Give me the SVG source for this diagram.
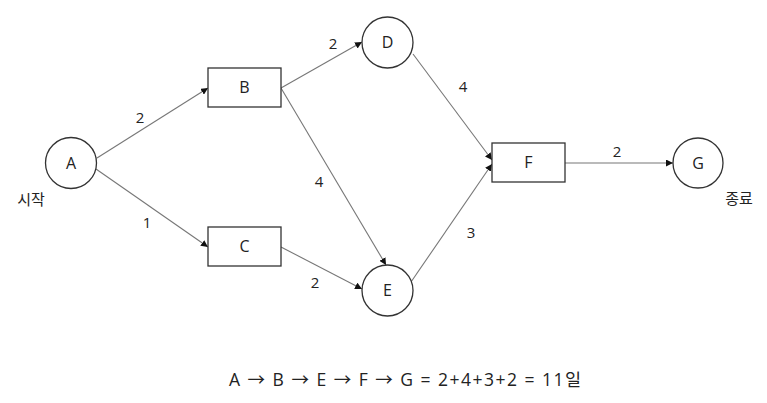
<svg xmlns="http://www.w3.org/2000/svg" width="767" height="403" viewBox="0 0 767 403">
<style>
.n{fill:#fff;stroke:#333;stroke-width:1.3}
.c{stroke:#777;stroke-width:1.1;fill:none;marker-end:url(#ah)}
text{font-family:"Open Sans","Noto Sans","Noto Sans CJK KR",sans-serif;font-size:16px;fill:#222;text-anchor:middle}
.l{font-size:15px}
</style>
<defs>
<marker id="ah" viewBox="0 0 10 10" refX="10" refY="5" markerWidth="7" markerHeight="7" markerUnits="userSpaceOnUse" orient="auto">
<path d="M0,0 L10,5 L0,10 z" fill="#111"/>
</marker>
</defs>
<rect width="767" height="403" fill="#fff"/>
<g id="connectors">
<line class="c" x1="97" y1="158" x2="208" y2="88"/>
<line class="c" x1="96" y1="169" x2="208" y2="247"/>
<line class="c" x1="281" y1="88" x2="362" y2="42"/>
<line class="c" x1="281" y1="88" x2="386" y2="265"/>
<line class="c" x1="281" y1="247" x2="362" y2="289"/>
<line class="c" x1="413" y1="54" x2="492" y2="160"/>
<line class="c" x1="411" y1="282" x2="492" y2="164"/>
<line class="c" x1="565" y1="163" x2="673" y2="163"/>
<text class="l" x="140" y="123">2</text>
<text class="l" x="147" y="228">1</text>
<text class="l" x="333" y="49">2</text>
<text class="l" x="319" y="187">4</text>
<text class="l" x="463" y="92">4</text>
<text class="l" x="471" y="238">3</text>
<text class="l" x="315" y="288">2</text>
<text class="l" x="617" y="157">2</text>
</g>
<g id="A"><circle class="n" cx="71" cy="163" r="25.5"/><text x="71" y="169">A</text><text class="l" x="31" y="205">시작</text></g>
<g id="B"><rect class="n" x="208" y="68" width="73" height="39"/><text x="244.5" y="93">B</text></g>
<g id="C"><rect class="n" x="208" y="227" width="73" height="39"/><text x="244.5" y="252">C</text></g>
<g id="D"><circle class="n" cx="387.5" cy="42.5" r="25.5"/><text x="387.5" y="48">D</text></g>
<g id="E"><circle class="n" cx="387.5" cy="290.5" r="25.5"/><text x="387.5" y="296">E</text></g>
<g id="F"><rect class="n" x="492" y="143" width="73" height="39"/><text x="528.5" y="168">F</text></g>
<g id="G"><circle class="n" cx="698" cy="163" r="25"/><text x="698" y="169">G</text><text class="l" x="739" y="204">종료</text></g>
<text x="405" y="386" textLength="352" lengthAdjust="spacing" style="font-size:17.5px">A → B → E → F → G = 2+4+3+2 = 11일</text>
</svg>
